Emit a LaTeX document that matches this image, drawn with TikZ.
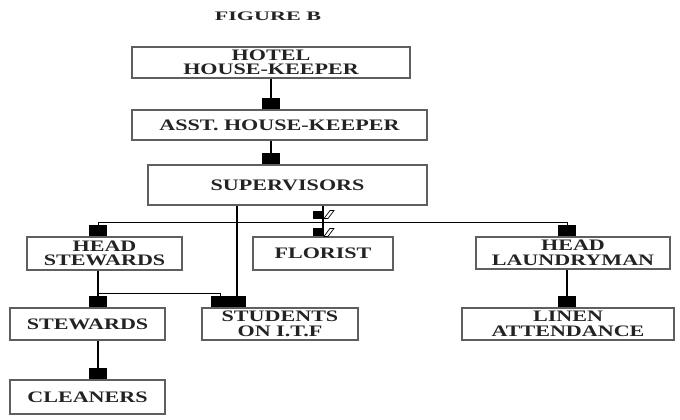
\documentclass[tikz,border=0pt]{standalone}
\usepackage{fontspec}
\setmainfont{Liberation Serif}[FakeStretch=1.38]
\newfontfamily\titlefont{Liberation Serif}[FakeStretch=1.7]
\usepackage{xcolor}
\usetikzlibrary{arrows.meta, calc}
\definecolor{boxgray}{RGB}{95,95,95}
\definecolor{inkblack}{RGB}{35,35,35}

\begin{document}
\begin{tikzpicture}[
                x=1pt, y=-1pt,
                line join=miter,
                staffbox/.style={draw=boxgray, line width=1.2pt, text=inkblack, inner sep=0pt, align=center,
                                 font=\fontsize{16}{14.5}\selectfont\bfseries},
                boxtip/.tip={Square[length=11pt, width=18pt, line width=0pt]},
                link/.style={line width=2.5pt, -{boxtip}},
                busline/.style={line width=1pt},
                flomark/.pic={
                    \fill[black] (-10,0) rectangle (0,-8);
                    \draw[line width=0.7pt] (1,0) -- (7,-8) -- (11,-8) -- (5,0) -- cycle;
                }
                ]
                \useasboundingbox (0,0) rectangle (680,420);

                %% Title
                \node[font=\titlefont\fontsize{13}{13}\selectfont\bfseries, text=inkblack] (title) at (268,16) {FIGURE B};

                %% Boxes
                \node[staffbox, minimum width=278pt, minimum height=31pt] (hotel) at (271,62.5) {HOTEL\\HOUSE-KEEPER};
                \node[staffbox, minimum width=295pt, minimum height=30pt] (asst) at (279.5,125) {ASST. HOUSE-KEEPER};
                \node[staffbox, minimum width=279pt, minimum height=40pt] (sup) at (287.5,185) {SUPERVISORS};

                \node[staffbox, minimum width=155pt, minimum height=33pt] (hstew) at (104.5,253.5) {HEAD\\STEWARDS};
                \node[staffbox, minimum width=140pt, minimum height=33pt] (flo) at (323,253.5) {FLORIST};
                \node[staffbox, minimum width=194pt, minimum height=32pt] (hlaun) at (573,253) {HEAD\\LAUNDRYMAN};

                \node[staffbox, minimum width=155pt, minimum height=32pt] (stew) at (87.5,324) {STEWARDS};
                \node[staffbox, minimum width=156pt, minimum height=32pt] (stud) at (280,324) {STUDENTS\\ON I.T.F};
                \node[staffbox, minimum width=212pt, minimum height=32pt] (linen) at (568,324) {LINEN\\ATTENDANCE};

                \node[staffbox, minimum width=155pt, minimum height=34pt] (clean) at (87.5,397) {CLEANERS};

                %% Junctions
                \coordinate (stewcol) at (98,222);
                \coordinate (laucol) at (567,222);
                \coordinate (itfcol) at (220,293);
                \coordinate (supleg) at (237,0);

                %% Connectors
                \draw[link] (hotel.south) -- (hotel.south |- asst.north);
                \draw[link] (hotel.south |- asst.south) -- (hotel.south |- sup.north);

                \draw[busline] (stewcol) -- (laucol);
                \draw[busline, -{boxtip}] (stewcol) -- (stewcol |- hstew.north);
                \draw[busline, -{boxtip}] (laucol) -- (laucol |- hlaun.north);
                \draw[line width=2.5pt] (flo.north |- sup.south) -- (flo.north);
                \pic at ($(flo.north |- sup.south)!0.42!(flo.north)$) {flomark};
                \pic at (flo.north) {flomark};

                \draw[link] (supleg |- sup.south) -- (supleg |- stud.north);
                \draw[link] (stewcol |- hstew.south) -- (stewcol |- stew.north);
                \draw[busline] (stewcol |- itfcol) -- (itfcol);
                \draw[busline, -{boxtip}] (itfcol) -- (itfcol |- stud.north);
                \draw[link] (stewcol |- stew.south) -- (stewcol |- clean.north);
                \draw[link] (laucol |- hlaun.south) -- (laucol |- linen.north);
\end{tikzpicture}
\end{document}
